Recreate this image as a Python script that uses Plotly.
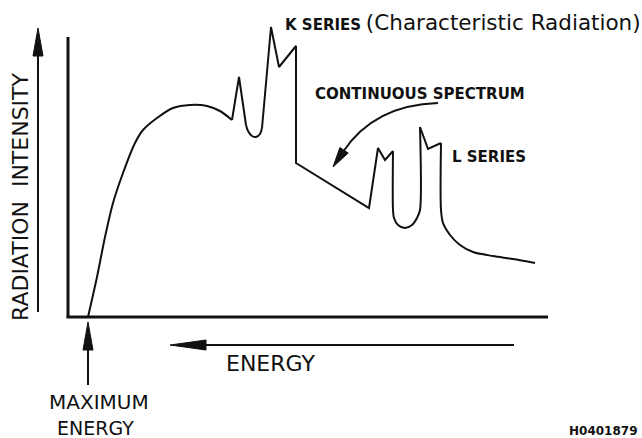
import math
import plotly.graph_objects as go

# Spectrum trace: position along the energy axis (origin at the axis corner,
# energy increasing to the left) and radiation intensity above the baseline.
position = [20, 29, 37, 45, 55, 67, 75, 89, 105, 122, 139, 152, 164,
            171, 178, 180, 184, 188, 192, 194, 203, 211, 228, 228,
            301, 310, 317, 325, 325, 326, 330, 337, 344, 349, 352, 352,
            360, 373, 373, 375, 382, 392, 405, 425, 445, 467]
intensity = [0, 40, 80, 114, 144, 174, 187, 199, 209, 212, 211, 206, 197,
             240, 192, 186, 181, 180, 183, 189, 290, 250, 271, 154,
             109, 169, 157, 166, 107, 99, 92, 89, 92, 99, 107, 190,
             168, 174, 107, 94, 82, 72, 65, 61, 58, 54]

# Stretches of the trace that are drawn as smooth curves (start, end index);
# everything between them is drawn with straight strokes.
smooth_runs = [(0, 12), (14, 19), (27, 35), (37, 45)]

FONT = "DejaVu Sans"
INK = "#111111"

fig = go.Figure()

runs = []
cursor = 0
for a, b in smooth_runs:
    if a > cursor:
        runs.append((cursor, a, "linear"))
    runs.append((a, b, "spline"))
    cursor = b
if cursor < len(position) - 1:
    runs.append((cursor, len(position) - 1, "linear"))

for a, b, shape in runs:
    fig.add_trace(go.Scatter(
        x=position[a:b + 1], y=intensity[a:b + 1], mode="lines",
        line=dict(color=INK, width=2, shape=shape, smoothing=0.8),
        hoverinfo="skip", showlegend=False,
    ))

shapes = []


def head(tx, ty, ux, uy, head_len, head_half):
    """Slim filled arrowhead with its point at (tx, ty), pointing along (ux, uy)."""
    bx, by = tx - ux * head_len, ty - uy * head_len
    nx, ny = -uy, ux
    shapes.append(dict(
        type="path",
        path=f"M {tx},{ty} L {bx + nx * head_half},{by + ny * head_half} "
             f"L {bx - nx * head_half},{by - ny * head_half} Z",
        fillcolor=INK, line=dict(color=INK, width=1),
    ))


def arrow(x0, y0, x1, y1, head_len, head_half, width=2):
    """Straight arrow from (x0, y0) to the tip (x1, y1)."""
    dx, dy = x1 - x0, y1 - y0
    d = math.hypot(dx, dy)
    ux, uy = dx / d, dy / d
    bx, by = x1 - ux * head_len, y1 - uy * head_len
    shapes.append(dict(type="line", x0=x0, y0=y0, x1=bx + ux * 2, y1=by + uy * 2,
                       line=dict(color=INK, width=width)))
    head(x1, y1, ux, uy, head_len, head_half)


# Axes of the diagram
shapes.append(dict(type="line", x0=0, y0=0, x1=0, y1=280,
                   line=dict(color=INK, width=3)))
shapes.append(dict(type="line", x0=-1.5, y0=0, x1=480, y1=0,
                   line=dict(color=INK, width=3)))

# Intensity arrow beside the vertical axis
arrow(-30, 5, -30, 289, 28, 5)
# Energy direction arrow under the baseline
arrow(446, -28, 102, -28, 36, 5)
# Maximum-energy pointer
arrow(20, -68, 20, -5, 28, 5)

# Curved pointer for the continuous spectrum
p0 = (370, 214)
c = (306, 212)
p2 = (265, 150)
ux, uy = p2[0] - c[0], p2[1] - c[1]
d = math.hypot(ux, uy)
ux, uy = ux / d, uy / d
hl = 20
end = (p2[0] - ux * (hl - 2), p2[1] - uy * (hl - 2))
shapes.append(dict(type="path",
                   path=f"M {p0[0]},{p0[1]} Q {c[0]},{c[1]} {end[0]},{end[1]}",
                   line=dict(color=INK, width=2)))
head(p2[0], p2[1], ux, uy, hl, 5)

annotations = [
    dict(x=-48, y=120, text="RADIATION  INTENSITY", textangle=-90,
         font=dict(family=FONT, size=22, color=INK)),
    dict(x=202, y=-46, text="ENERGY", font=dict(family=FONT, size=22, color=INK)),
    dict(x=31, y=-85, text="MAXIMUM", font=dict(family=FONT, size=20, color=INK)),
    dict(x=27, y=-111, text="ENERGY", font=dict(family=FONT, size=19, color=INK)),
    dict(x=215, y=295, xanchor="left",
         text="<b>K SERIES</b> <span style='font-size:21.5px'>(Characteristic Radiation)</span>",
         font=dict(family=FONT, size=15, color=INK)),
    dict(x=245, y=223, xanchor="left", text="<b>CONTINUOUS SPECTRUM</b>",
         font=dict(family=FONT, size=15, color=INK)),
    dict(x=382, y=160, xanchor="left", text="<b>L SERIES</b>",
         font=dict(family=FONT, size=15, color=INK)),
    dict(x=572, y=-114, xanchor="right", text="<b>H0401879</b>",
         font=dict(family=FONT, size=12, color=INK)),
]
for a in annotations:
    a.update(xref="x", yref="y", showarrow=False)

fig.update_layout(
    width=642, height=438,
    margin=dict(l=0, r=0, t=0, b=0),
    paper_bgcolor="white", plot_bgcolor="white",
    xaxis=dict(range=[-68, 574], visible=False, fixedrange=True),
    yaxis=dict(range=[-121, 317], visible=False, fixedrange=True),
    shapes=shapes, annotations=annotations,
)

fig.write_html("out.html")
